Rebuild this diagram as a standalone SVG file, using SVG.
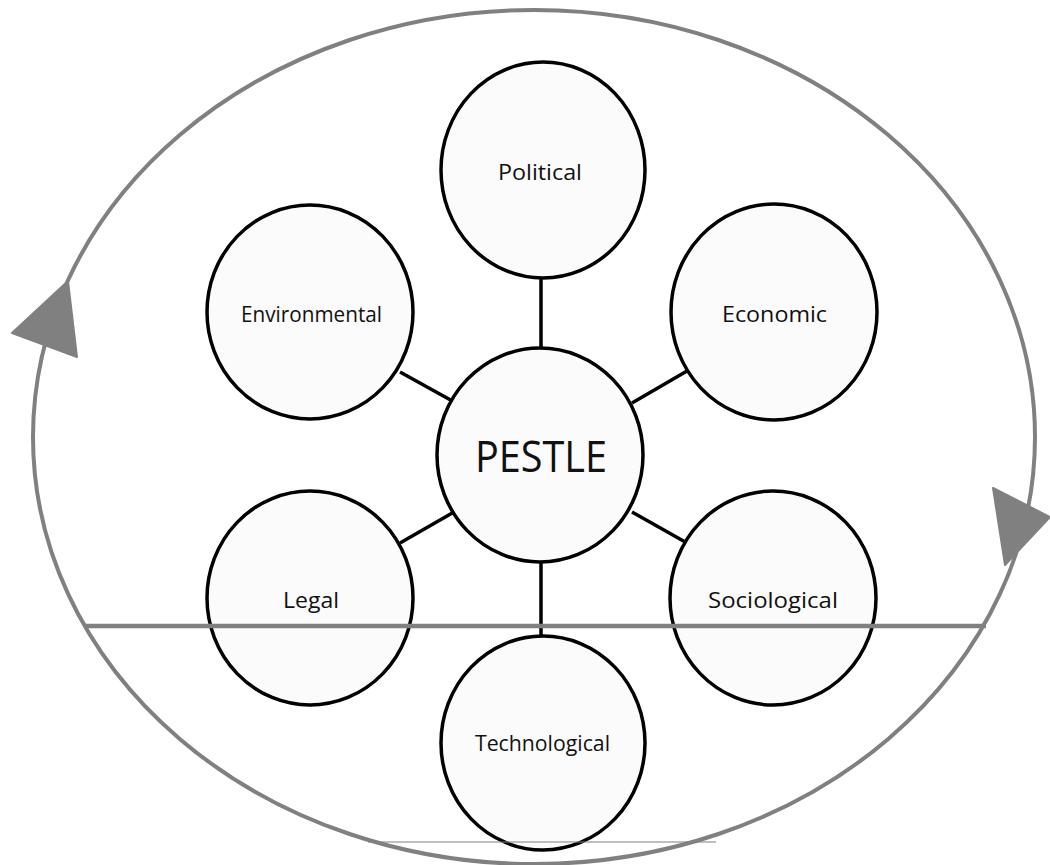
<svg xmlns="http://www.w3.org/2000/svg" width="1050" height="865" viewBox="0 0 1050 865">
<style>
.n{fill:#fbfbfb;stroke:#000;stroke-width:3.5}
.t{font-family:"Open Sans","Liberation Sans",sans-serif;font-size:22px;fill:#111;text-anchor:middle;dominant-baseline:central}
.c{stroke:#000;stroke-width:3.5}
.g{stroke:#808080;fill:none}
</style>
<rect width="1050" height="865" fill="#fff"/>
<g id="cycle">
<ellipse class="g" cx="534" cy="437" rx="501" ry="427" stroke-width="4"/>
<polygon points="68,281 12,333 77,357" fill="#808080" stroke="#808080" stroke-width="2" stroke-linejoin="round"/>
<polygon points="993,488 1050,517 1005,565" fill="#808080" stroke="#808080" stroke-width="2" stroke-linejoin="round"/>
</g>
<g id="connectors">
<line class="c" x1="541" y1="278" x2="541" y2="350"/>
<line class="c" x1="541" y1="562" x2="541" y2="637"/>
<line class="c" x1="400" y1="372" x2="456" y2="403"/>
<line class="c" x1="632" y1="403" x2="687" y2="371"/>
<line class="c" x1="400" y1="543" x2="454" y2="512"/>
<line class="c" x1="632" y1="512" x2="687" y2="543"/>
</g>
<g id="political"><ellipse class="n" cx="543" cy="170" rx="102" ry="108"/><text class="t" x="540" y="171" textLength="84" lengthAdjust="spacingAndGlyphs">Political</text></g>
<g id="environmental"><ellipse class="n" cx="310" cy="312" rx="103" ry="107"/><text class="t" x="311.5" y="313" textLength="141" lengthAdjust="spacingAndGlyphs">Environmental</text></g>
<g id="economic"><ellipse class="n" cx="774" cy="312" rx="103" ry="108"/><text class="t" x="774.5" y="313" textLength="105" lengthAdjust="spacingAndGlyphs">Economic</text></g>
<g id="pestle"><ellipse class="n" cx="540" cy="455" rx="103" ry="107"/><text class="t" x="541" y="455" style="font-size:43px" textLength="132" lengthAdjust="spacingAndGlyphs">PESTLE</text></g>
<g id="legal"><ellipse class="n" cx="310" cy="598" rx="103" ry="107"/><text class="t" x="311" y="599" textLength="56" lengthAdjust="spacingAndGlyphs">Legal</text></g>
<g id="sociological"><ellipse class="n" cx="773" cy="598" rx="103" ry="107"/><text class="t" x="773" y="599" textLength="130" lengthAdjust="spacingAndGlyphs">Sociological</text></g>
<line class="g" x1="84" y1="626" x2="986" y2="626" stroke-width="4.5"/>
<g id="technological"><ellipse class="n" cx="543" cy="743" rx="102" ry="107"/><text class="t" x="542.5" y="742" textLength="135" lengthAdjust="spacingAndGlyphs">Technological</text></g>
<line class="g" x1="368" y1="842" x2="716" y2="842" stroke-width="1.2"/>
</svg>
